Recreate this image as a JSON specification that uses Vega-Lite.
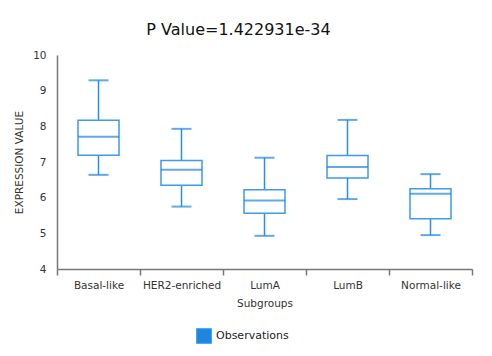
{
  "$schema": "https://vega.github.io/schema/vega-lite/v6.json",
  "autosize": {"type": "none"},
  "padding": {"left": 57, "top": 55, "right": 20, "bottom": 87},
  "width": 415,
  "height": 214,
  "background": "white",
  "title": {
    "text": "P Value=1.422931e-34",
    "font": "DejaVu Sans",
    "fontSize": 16,
    "fontWeight": "normal",
    "color": "#111111",
    "anchor": "middle",
    "dx": -26,
    "offset": 12
  },
  "config": {
    "view": {"stroke": null},
    "font": "DejaVu Sans",
    "axis": {"labelFont": "DejaVu Sans", "titleFont": "DejaVu Sans", "labelColor": "#333333", "titleColor": "#333333", "domainColor": "#777777", "tickColor": "#777777", "grid": false, "titleFontWeight": "normal", "labelFontSize": 10.5, "titleFontSize": 10.5}
  },
  "data": {
    "values": [
      {"group": "Basal-like", "min": 6.64, "q1": 7.19, "median": 7.71, "q3": 8.17, "max": 9.29},
      {"group": "HER2-enriched", "min": 5.75, "q1": 6.35, "median": 6.78, "q3": 7.04, "max": 7.93},
      {"group": "LumA", "min": 4.93, "q1": 5.56, "median": 5.92, "q3": 6.22, "max": 7.12},
      {"group": "LumB", "min": 5.96, "q1": 6.55, "median": 6.86, "q3": 7.18, "max": 8.18},
      {"group": "Normal-like", "min": 4.95, "q1": 5.41, "median": 6.11, "q3": 6.25, "max": 6.66}
    ]
  },
  "encoding": {
    "x": {
      "field": "group",
      "type": "nominal",
      "sort": null,
      "scale": {"paddingInner": 0, "paddingOuter": 0},
      "axis": {"title": "Subgroups", "labelAngle": 0, "tickBand": "extent", "tickSize": 6, "labelPadding": 5, "titlePadding": 8, "domainWidth": 1.5, "tickWidth": 1.5}
    }
  },
  "layer": [
    {
      "mark": {"type": "rule", "color": "#2b8fe0", "strokeWidth": 1.5},
      "encoding": {
        "y": {
          "field": "min",
          "type": "quantitative",
          "scale": {"domain": [4, 10], "nice": false, "zero": false},
          "axis": {"title": "EXPRESSION VALUE", "ticks": false, "tickCount": 6, "labelPadding": 11, "titlePadding": 8, "domainWidth": 1.5}
        },
        "y2": {"field": "max"}
      }
    },
    {
      "mark": {"type": "bar", "size": 41, "fill": "white", "stroke": "#3d9be9", "strokeWidth": 1.5},
      "encoding": {
        "y": {"field": "q1", "type": "quantitative"},
        "y2": {"field": "q3"}
      }
    },
    {
      "mark": {"type": "tick", "size": 41, "thickness": 2},
      "encoding": {
        "y": {"field": "median", "type": "quantitative"},
        "color": {
          "datum": "Observations",
          "type": "nominal",
          "scale": {"range": ["#1f86dc"]},
          "legend": {
            "title": null,
            "orient": "none",
            "legendX": 139,
            "legendY": 273,
            "direction": "horizontal",
            "symbolType": "square",
            "symbolSize": 200,
            "symbolOpacity": 1,
            "labelFontSize": 11,
            "labelColor": "#222222",
            "labelFont": "DejaVu Sans",
            "encode": {"symbols": {"update": {"fill": {"value": "#1e8ff5"}, "stroke": {"value": "#1e8ff5"}}}}
          }
        }
      }
    },
    {
      "mark": {"type": "tick", "color": "#1f86dc", "size": 20, "thickness": 2},
      "encoding": {"y": {"field": "min", "type": "quantitative"}}
    },
    {
      "mark": {"type": "tick", "color": "#1f86dc", "size": 20, "thickness": 2},
      "encoding": {"y": {"field": "max", "type": "quantitative"}}
    }
  ]
}
